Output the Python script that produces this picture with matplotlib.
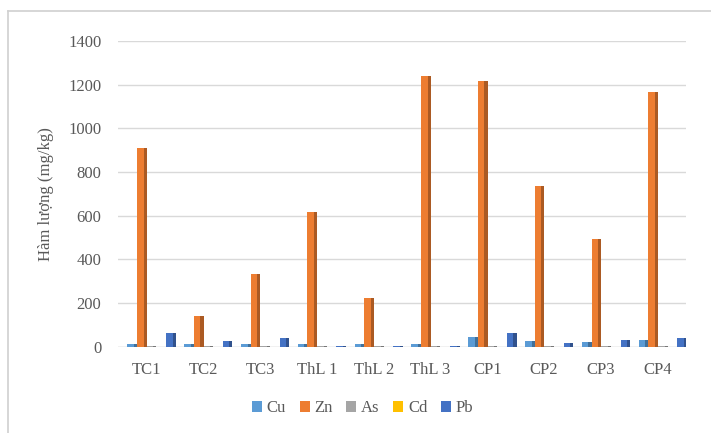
import numpy as np
import matplotlib
matplotlib.use('Agg')
import matplotlib.pyplot as plt
from matplotlib.lines import Line2D
from matplotlib.patches import Patch

plt.rcParams['font.family'] = ['Liberation Serif', 'DejaVu Serif']

sites = ['TC1', 'TC2', 'TC3', 'ThL 1', 'ThL 2', 'ThL 3', 'CP1', 'CP2', 'CP3', 'CP4']
cu = [15, 14, 15, 12, 12, 13, 45, 25, 20, 32]
zn = [910, 141, 333, 616, 224, 1242, 1219, 735, 493, 1169]
as_ = [5, 4, 5, 3, 3, 4, 6, 4, 4, 5]
cd = [1, 1, 1, 1, 1, 1, 1, 1, 1, 1]
pb = [65, 27, 40, 3, 3, 5, 62, 18, 32, 41]

names = ['Cu', 'Zn', 'As', 'Cd', 'Pb']
colors = ['#5B9BD5', '#ED7D31', '#A5A5A5', '#FFC000', '#4472C4']
series = [cu, zn, as_, cd, pb]

def darker(c, f=0.72):
    r, g, b = matplotlib.colors.to_rgb(c)
    return (r * f, g * f, b * f)

fig = plt.figure(figsize=(7.11, 4.33), dpi=100)
ax = fig.add_axes([0.166, 0.199, 0.799, 0.706])

x = np.arange(len(sites))
w = 0.17
for i, (vals, col) in enumerate(zip(series, colors)):
    pos = x + (i - 2) * w + 0.09
    ax.bar(pos, vals, width=w, color=col, zorder=3)
    # dark side strip for a little 3D feel
    ax.bar(pos + w * 0.34, vals, width=w * 0.32, color=darker(col), zorder=3)

ax.set_xlim(-0.5, len(sites) - 0.5)
ax.set_ylim(0, 1400)
ax.set_yticks(np.arange(0, 1401, 200))
ax.set_xticks(x)
ax.set_xticklabels(sites)
ax.grid(axis='y', color='#D9D9D9', linewidth=1, zorder=0)
for s in ax.spines.values():
    s.set_visible(False)
ax.axhline(0, color='#D9D9D9', linewidth=1, zorder=1)
ax.tick_params(length=0, labelsize=12, colors='#595959', pad=11)
ax.tick_params(axis='y', pad=12)
ax.set_ylabel('Hàm lượng (mg/kg)', fontsize=12, color='#595959', labelpad=10)

handles = [Patch(facecolor=c, label=n) for c, n in zip(colors, names)]
fig.legend(handles=handles, loc='center', bbox_to_anchor=(0.51, 0.057), ncol=5,
           frameon=False, prop={'family': 'Liberation Serif', 'size': 12},
           handlelength=0.6, handleheight=0.6,
           handletextpad=0.3, columnspacing=0.8, labelcolor='#595959')

# outer chart frame (only top and left visible in the crop)
fig.add_artist(Line2D([0.011, 1.0], [0.975, 0.975], transform=fig.transFigure,
                      color='#D0D0D0', linewidth=1.2))
fig.add_artist(Line2D([0.011, 0.011], [0.0, 0.975], transform=fig.transFigure,
                      color='#D0D0D0', linewidth=1.2))

fig.savefig('out.png', dpi=100)
